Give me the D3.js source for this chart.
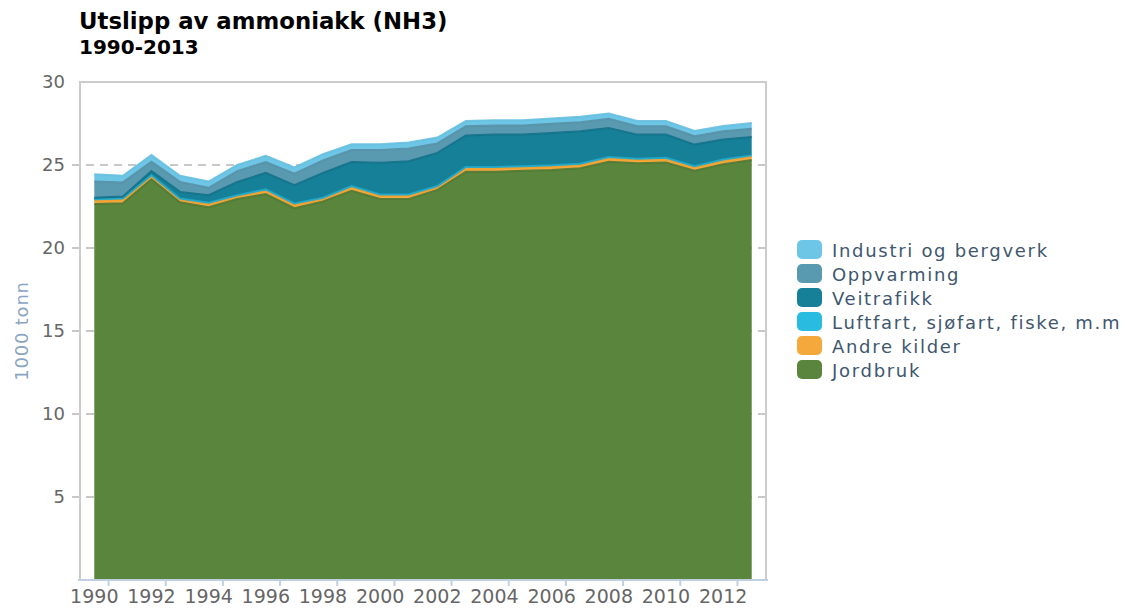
<!DOCTYPE html>
<html lang="no">
<head>
  <meta charset="UTF-8">
  <title>Utslipp av ammoniakk (NH3)</title>
  <script src="https://cdnjs.cloudflare.com/ajax/libs/d3/7.8.5/d3.min.js"></script>
  <style>
    body { margin: 0; background: #fff; }
    svg text { font-family: "DejaVu Sans", Verdana, sans-serif; }
  </style>
</head>
<body>
  <script>
    // data (1000 tonn)
    const years = d3.range(1990, 2014);
    const jordbruk   = [22.65, 22.7, 24.15, 22.75, 22.45, 22.95, 23.25, 22.4, 22.8, 23.45, 22.95, 22.95, 23.5, 24.6, 24.6, 24.65, 24.7, 24.8, 25.2, 25.1, 25.15, 24.65, 25.05, 25.3];
    const andre      = [0.2, 0.2, 0.15, 0.15, 0.2, 0.15, 0.2, 0.2, 0.15, 0.2, 0.2, 0.2, 0.15, 0.2, 0.2, 0.2, 0.2, 0.2, 0.2, 0.2, 0.2, 0.2, 0.2, 0.2];
    const luftfart   = [0.08, 0.08, 0.08, 0.08, 0.08, 0.08, 0.08, 0.08, 0.08, 0.08, 0.08, 0.08, 0.08, 0.08, 0.08, 0.08, 0.08, 0.08, 0.08, 0.08, 0.08, 0.08, 0.08, 0.08];
    const veitrafikk = [0.1, 0.12, 0.25, 0.4, 0.45, 0.8, 1.0, 1.1, 1.5, 1.45, 1.9, 2.0, 2.0, 1.9, 1.95, 1.9, 1.95, 1.95, 1.75, 1.45, 1.4, 1.3, 1.2, 1.1];
    const oppvarming = [0.97, 0.85, 0.57, 0.6, 0.45, 0.65, 0.65, 0.7, 0.75, 0.72, 0.77, 0.77, 0.57, 0.55, 0.55, 0.55, 0.55, 0.55, 0.55, 0.5, 0.5, 0.5, 0.5, 0.5];
    const industri   = [0.45, 0.4, 0.4, 0.37, 0.37, 0.37, 0.37, 0.37, 0.37, 0.35, 0.35, 0.35, 0.35, 0.32, 0.32, 0.32, 0.32, 0.32, 0.32, 0.32, 0.32, 0.32, 0.32, 0.35];

    const seriesNames  = ["Jordbruk", "Andre kilder", "Luftfart, sjøfart, fiske, m.m", "Veitrafikk", "Oppvarming", "Industri og bergverk"];
    const seriesValues = [jordbruk, andre, luftfart, veitrafikk, oppvarming, industri];
    const colors = ["#5a853c", "#f5a83c", "#29bbe0", "#168098", "#5a9ab0", "#6ec6e6"];
    const lineColors = ["#4f7834", "#f0a02e", "#1ea9cc", "#127089", "#5590a6", "#66bfe0"];
    const yTicks = [5, 10, 15, 20, 25, 30];

    const width = 1129, height = 608;
    const plot = { left: 80, right: 766, top: 82, bottom: 580 };

    const svg = d3.select("body").append("svg")
      .attr("width", width)
      .attr("height", height);

    const table = years.map((y, i) => {
      const row = { year: y };
      seriesNames.forEach((n, k) => row[n] = seriesValues[k][i]);
      return row;
    });
    const stacked = d3.stack().keys(seriesNames)(table);

    const x = d3.scaleBand().domain(years).range([plot.left, plot.right]);
    const xc = d => x(d) + x.bandwidth() / 2;
    const y = d3.scaleLinear().domain([0, 30]).range([plot.bottom, plot.top]);

    // grid
    svg.append("g").selectAll("line")
      .data(yTicks.filter(t => t < 30))
      .join("line")
      .attr("x1", plot.left - 8).attr("x2", plot.right)
      .attr("y1", d => y(d)).attr("y2", d => y(d))
      .attr("stroke", "#c8c8c8")
      .attr("stroke-width", 2)
      .attr("stroke-dasharray", "8,6");

    // areas
    const area = d3.area()
      .x(d => xc(d.data.year))
      .y0(d => y(d[0]))
      .y1(d => y(d[1]));
    const line = d3.line()
      .x(d => xc(d.data.year))
      .y(d => y(d[1]));

    svg.append("g").selectAll("path")
      .data(stacked)
      .join("path")
      .attr("d", area)
      .attr("fill", (d, i) => colors[i]);

    svg.append("g").selectAll("path")
      .data(stacked)
      .join("path")
      .attr("d", line)
      .attr("fill", "none")
      .attr("stroke", (d, i) => lineColors[i])
      .attr("stroke-width", 2)
      .attr("stroke-opacity", 0.9);

    // plot border
    svg.append("path")
      .attr("d", `M${plot.left},${plot.bottom}V${plot.top}H${plot.right}V${plot.bottom}`)
      .attr("fill", "none")
      .attr("stroke", "#cccccc")
      .attr("stroke-width", 2);

    // x axis
    const xAxis = d3.axisBottom(x)
      .tickValues(years.filter(d => d % 2 === 0))
      .tickSize(0)
      .tickPadding(10);
    const gx = svg.append("g")
      .attr("transform", `translate(0,${plot.bottom})`)
      .call(xAxis);
    gx.select(".domain").attr("stroke", "#c0d0e0").attr("stroke-width", 2)
      .attr("d", `M${plot.left - 2},0H${plot.right + 2}`);
    gx.selectAll("text")
      .attr("font-family", "'DejaVu Sans Condensed', 'DejaVu Sans', sans-serif")
      .attr("font-size", 19)
      .attr("fill", "#666");
    gx.selectAll(".tick").append("line")
      .attr("x1", x.bandwidth() / 2).attr("x2", x.bandwidth() / 2)
      .attr("y1", 0).attr("y2", 6)
      .attr("stroke", "#c0d0e0")
      .attr("stroke-width", 2);

    // y axis
    const gy = svg.append("g")
      .attr("transform", `translate(${plot.left},0)`)
      .call(d3.axisLeft(y).tickValues(yTicks).tickSize(0).tickPadding(15));
    gy.select(".domain").remove();
    gy.selectAll("text")
      .attr("font-size", 18)
      .attr("fill", "#666");

    svg.append("text")
      .attr("transform", `translate(28,${(plot.top + plot.bottom) / 2}) rotate(-90)`)
      .attr("text-anchor", "middle")
      .attr("font-size", 18)
      .attr("letter-spacing", 0.8)
      .attr("fill", "#8aa4c4")
      .text("1000 tonn");

    // titles
    svg.append("text")
      .attr("x", 79).attr("y", 29)
      .attr("font-size", 22.8)
      .attr("font-weight", "bold")
      .attr("fill", "#000")
      .text("Utslipp av ammoniakk (NH3)");
    svg.append("text")
      .attr("x", 79).attr("y", 54)
      .attr("font-size", 20)
      .attr("font-weight", "bold")
      .attr("fill", "#000")
      .text("1990-2013");

    // legend (reversed)
    const legend = svg.append("g")
      .selectAll("g")
      .data(seriesNames.map((n, i) => ({ name: n, color: colors[i] })).reverse())
      .join("g")
      .attr("transform", (d, i) => `translate(797,${250 + i * 24})`);
    legend.append("rect")
      .attr("x", 0).attr("y", -10)
      .attr("width", 25).attr("height", 19)
      .attr("rx", 5)
      .attr("fill", d => d.color);
    legend.append("text")
      .attr("x", 35).attr("y", 7)
      .attr("font-size", 18)
      .attr("letter-spacing", 1.7)
      .attr("fill", "#3e576f")
      .text(d => d.name);
  </script>
</body>
</html>
